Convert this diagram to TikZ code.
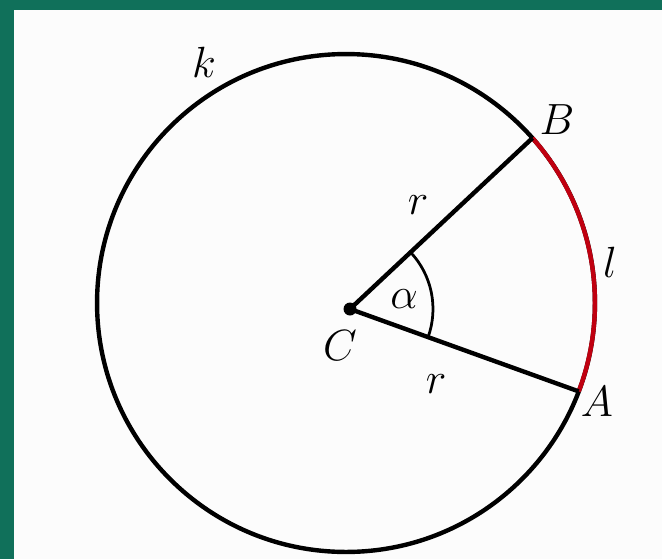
\documentclass[tikz,border=0pt]{standalone}
\usetikzlibrary{angles,calc}
\definecolor{frame}{HTML}{10705A}
\definecolor{arcred}{HTML}{C00010}
\begin{document}
\begin{tikzpicture}[x=0.02cm,y=0.02cm,
  lbl/.style={inner sep=0pt,font=\fontsize{29}{33}\selectfont},
  thick line/.style={line width=0.088cm}]
\fill[frame] (0,0) rectangle (662,559);
\fill[white!99!black] (14,0) rectangle (662,549);
\useasboundingbox (0,0) rectangle (662,559);
\coordinate (O) at (346,256);
\coordinate (C) at (350,250);
\coordinate (B) at ($(O)+(41.5:4.98cm)$);
\coordinate (A) at ($(O)+(-20.8:4.98cm)$);
\draw[thick line] (O) circle[radius=4.98cm];
\draw[thick line,arcred] (A) arc[start angle=-20.8,end angle=41.5,radius=4.98cm];
\draw[thick line] (C) -- (B);
\draw[thick line] (C) -- (A);
\pic[draw,line width=0.055cm,angle radius=1.66cm] {angle=A--C--B};
\fill (C) circle[radius=0.13cm];
\node[lbl] (k) at (204,497) {$k$};
\node[lbl] (lB) at (557,439) {$B$};
\node[lbl] (ll) at (610,297) {$l$};
\node[lbl] (lA) at (597,157) {$A$};
\node[lbl] (r1) at (418,354) {$r$};
\node[lbl] (r2) at (436,175) {$r$};
\node[lbl] (al) at (404,260) {$\alpha$};
\node[lbl] (lC) at (340,213) {$C$};
\end{tikzpicture}
\end{document}
